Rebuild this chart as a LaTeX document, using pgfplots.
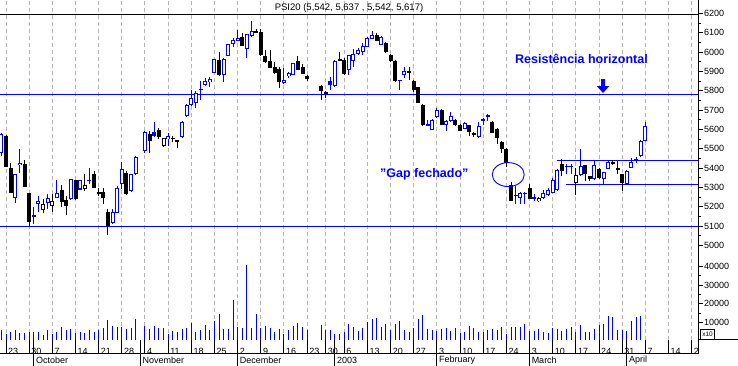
\documentclass[border=0pt]{standalone}
\usepackage{fontspec}
\setmainfont{Liberation Sans}
\usepackage{pgfplots}
\pgfplotsset{compat=1.18}
\usepackage{pgfplotstable}

\definecolor{cblue}{RGB}{0,0,255}
\definecolor{gridgray}{RGB}{180,180,180}

% i = trading-day slot (Sep 20 2002 = 0), o h l c, t = candle type
% (1 blue hollow, 2 blue filled, 3 black hollow, 4 black filled), v = volume
\pgfplotstableread{
i o h l c t v
0 5480 5580 5462 5578 1 5900
1 5568 5572 5405 5405 4 3600
2 5402 5427 5273 5273 4 4800
3 5244 5367 5221 5367 1 5900
4 5415 5501 5376 5427 1 4100
5 5419 5441 5304 5304 4 4100
6 5273 5273 5093 5122 4 4800
7 5150 5196 5108 5154 1 4800
8 5214 5255 5175 5232 1 4800
9 5182 5238 5170 5213 3 3200
10 5220 5264 5187 5247 1 5700
11 5206 5264 5170 5227 3 3600
12 5247 5336 5245 5273 1 4800
13 5288 5311 5196 5225 4 7300
14 5233 5255 5158 5204 4 5900
15 5239 5345 5235 5345 1 6400
16 5336 5340 5233 5240 4 4300
17 5289 5340 5285 5338 1 4600
18 5294 5367 5283 5314 3 4300
19 5332 5398 5316 5340 1 5700
20 5371 5384 5299 5299 4 4800
21 5278 5299 5255 5264 4 5900
22 5275 5299 5216 5247 4 6800
23 5175 5187 5055 5101 4 11300
24 5118 5187 5110 5175 1 8100
25 5170 5305 5165 5299 1 7500
26 5316 5433 5290 5397 1 7500
27 5376 5384 5260 5264 4 6300
28 5281 5370 5275 5367 1 6800
29 5371 5460 5365 5456 1 11800
31 5487 5590 5480 5587 1 8100
32 5578 5590 5479 5542 4 6600
33 5587 5639 5560 5565 2 7900
34 5595 5608 5550 5559 4 7000
35 5513 5556 5510 5556 3 7000
36 5551 5582 5513 5564 1 4000
37 5556 5565 5535 5553 4 5400
38 5536 5546 5505 5546 3 4800
39 5559 5645 5555 5639 1 6400
40 5667 5730 5662 5728 1 7000
41 5724 5805 5720 5762 1 9700
42 5736 5796 5711 5786 1 5000
43 5805 5848 5754 5810 1 6100
44 5831 5868 5825 5848 1 8600
45 5843 5873 5817 5860 1 5900
46 5894 5965 5890 5963 1 10800
47 5960 6000 5875 5879 4 14700
48 5879 5968 5843 5965 1 6600
49 5982 6042 5978 6040 1 6600
50 6042 6071 6025 6062 1 22000
51 6059 6114 6055 6071 1 7500
52 6080 6097 6030 6033 4 7000
53 6015 6095 5968 6092 1 40800
54 6085 6160 6080 6110 1 7000
55 6107 6118 6100 6104 4 14700
56 6105 6119 5982 5985 4 7000
57 5980 6010 5945 5948 4 8100
58 5954 6011 5915 5917 4 7000
59 5920 5948 5885 5891 4 4800
60 5913 5925 5814 5845 4 6400
61 5840 5917 5836 5857 1 3800
62 5876 5899 5865 5891 1 5900
63 5882 5945 5880 5942 1 7900
64 5954 5977 5905 5908 4 9700
65 5923 5938 5885 5887 4 7500
66 5877 5882 5851 5860 4 5900
69 5822 5831 5754 5796 4 8600
70 5793 5800 5762 5784 4 5900
71 5848 5873 5805 5831 2 5900
72 5822 5960 5818 5954 1 3800
73 5962 6002 5955 5958 4 3800
74 5960 5968 5880 5886 4 4800
75 5908 5985 5879 5982 1 9100
76 5951 6016 5925 5989 1 7500
77 5990 6020 5985 6011 1 5400
78 6002 6046 5985 6033 1 7000
79 6028 6078 6025 6074 1 10000
80 6068 6109 6065 6088 1 11800
81 6088 6098 6055 6057 4 12400
82 6037 6082 6035 6080 1 7500
83 6045 6050 5994 6002 4 9100
84 5985 5990 5950 5954 4 5900
85 5954 5958 5845 5851 4 9100
86 5852 5857 5805 5855 1 10800
87 5879 5920 5865 5903 1 5900
88 5903 5920 5857 5891 4 4800
89 5851 5855 5795 5805 4 7000
90 5817 5820 5735 5737 4 11800
91 5728 5730 5618 5621 4 14000
92 5623 5650 5618 5626 1 6400
93 5597 5655 5595 5650 1 5900
94 5664 5710 5660 5702 1 5400
95 5702 5705 5622 5625 4 6400
96 5625 5650 5590 5645 1 7000
97 5642 5688 5640 5667 1 5400
98 5650 5655 5618 5621 4 7000
99 5625 5628 5590 5594 4 4300
100 5604 5636 5600 5633 1 4800
101 5620 5623 5565 5587 4 8100
102 5582 5585 5560 5570 4 7000
103 5559 5640 5555 5616 1 4800
104 5646 5659 5625 5654 1 4800
105 5666 5680 5642 5673 1 5900
106 5639 5642 5580 5582 4 6400
107 5604 5606 5525 5556 4 5900
108 5534 5540 5479 5500 4 7500
109 5500 5502 5407 5427 4 3800
110 5311 5326 5228 5230 4 7500
111 5255 5307 5213 5262 1 7500
112 5247 5275 5213 5269 1 7500
113 5268 5275 5213 5273 1 9100
114 5299 5315 5240 5242 4 5400
115 5242 5264 5230 5252 1 5400
116 5227 5250 5222 5247 3 6400
117 5247 5286 5239 5273 1 4800
118 5258 5296 5255 5285 1 4300
119 5273 5350 5270 5336 1 7000
120 5285 5395 5282 5388 1 6400
121 5419 5448 5358 5384 4 5400
122 5408 5419 5367 5410 1 6400
123 5406 5419 5367 5412 1 7500
124 5324 5402 5259 5362 3 4800
125 5364 5500 5360 5410 1 8600
126 5414 5416 5333 5367 4 4800
127 5358 5360 5335 5341 4 4800
128 5341 5441 5338 5414 1 6400
129 5397 5400 5345 5350 4 8600
130 5341 5382 5316 5379 1 9100
131 5397 5441 5395 5433 1 13400
132 5431 5441 5415 5419 4 12900
133 5402 5436 5367 5390 4 5900
134 5367 5370 5281 5321 4 5900
135 5316 5388 5312 5384 1 5400
136 5402 5451 5398 5433 1 10500
137 5439 5458 5427 5445 1 12900
138 5461 5545 5455 5539 1 13400
139 5542 5637 5542 5617 1 0
}\candles

\pgfplotsset{
  chartbase/.style={
    scale only axis, width=698pt,
    xmin=-0.2957, xmax=150.36,
    axis x line*=bottom, axis y line*=right,
    x axis line style={draw=none},
    y axis line style={black, line width=1pt},
    xtick={1,6,11,16,21,26,31,36,41,46,51,56,61,66,70,74,79,84,89,94,99,104,109,114,119,124,129,134,139,144,149},
    xmajorgrids,
    major x grid style={gridgray, line width=1pt, dash pattern=on 4pt off 3pt},
    xtick style={draw=none},
    ytick style={black, line width=0.8pt},
    tick align=outside, major tick length=5pt, minor tick length=3pt,
    ytick pos=right, yticklabel pos=right,
    tick label style={font=\fontsize{9}{10}\selectfont},
    yticklabel style={anchor=west, inner sep=1pt},
    scaled y ticks=false,
    /pgf/number format/assume math mode=true,
    /pgf/number format/1000 sep={},
  },
  wick/.style={draw=none, no markers, forget plot,
    error bars/.cd, y dir=both, y explicit, error mark=none,
    error bar style={draw=#1, line width=1pt}},
  body/.style={draw=none, no markers, forget plot,
    error bars/.cd, y dir=both, y explicit, error mark=none,
    error bar style={draw=#1, line width=4pt}},
  inner/.style={draw=none, no markers, forget plot,
    error bars/.cd, y dir=both, y explicit, error mark=none,
    error bar style={draw=white, line width=2pt}},
}

\begin{document}
\begin{tikzpicture}
\path[use as bounding box] (0,0) rectangle (738pt,365pt);

% ---------------- price panel ----------------
\begin{axis}[chartbase, at={(0pt,115pt)}, anchor=south west, height=250pt,
  ymin=4976, ymax=6269, ytick={5000,5100,...,6200}, minor y tick num=1,
  xticklabels={}]
  % horizontal reference lines
  \addplot[black, line width=1pt, forget plot] coordinates {(-0.3,6194) (150.4,6194)};
  \addplot[cblue, line width=1pt, forget plot] coordinates {(-0.3,5780) (150.4,5780)};
  \addplot[cblue, line width=1pt, forget plot] coordinates {(-0.3,5097.5) (150.4,5097.5)};
  \addplot[cblue, line width=1pt, forget plot] coordinates {(119.9,5439) (150.4,5439)};
  \addplot[cblue, line width=1pt, forget plot] coordinates {(121.9,5315) (150.4,5315)};
  % wicks
  \addplot[restrict expr to domain={\thisrow{t}}{1:2}, wick=cblue]
    table[x=i, y expr={(\thisrow{h}+\thisrow{l})/2}, y error expr={(\thisrow{h}-\thisrow{l})/2}]{\candles};
  \addplot[restrict expr to domain={\thisrow{t}}{3:4}, wick=black]
    table[x=i, y expr={(\thisrow{h}+\thisrow{l})/2}, y error expr={(\thisrow{h}-\thisrow{l})/2}]{\candles};
  % bodies
  \addplot[restrict expr to domain={\thisrow{t}}{1:2}, body=cblue]
    table[x=i, y expr={(\thisrow{o}+\thisrow{c})/2}, y error expr={max(abs(\thisrow{c}-\thisrow{o})/2,2.6)}]{\candles};
  \addplot[restrict expr to domain={\thisrow{t}}{3:4}, body=black]
    table[x=i, y expr={(\thisrow{o}+\thisrow{c})/2}, y error expr={max(abs(\thisrow{c}-\thisrow{o})/2,2.6)}]{\candles};
  % hollow interiors
  \addplot[restrict expr to domain={\thisrow{t}}{1:1}, inner]
    table[x=i, y expr={(\thisrow{o}+\thisrow{c})/2}, y error expr={max(abs(\thisrow{c}-\thisrow{o})/2-5.2,0)}]{\candles};
  \addplot[restrict expr to domain={\thisrow{t}}{3:3}, inner]
    table[x=i, y expr={(\thisrow{o}+\thisrow{c})/2}, y error expr={max(abs(\thisrow{c}-\thisrow{o})/2-5.2,0)}]{\candles};
  % gap ellipse
  \draw[cblue, line width=0.9pt] (axis cs:109.4,5366) ellipse [x radius=16pt, y radius=12pt];
\end{axis}

% ---------------- volume panel ----------------
\begin{axis}[chartbase, at={(0pt,25.5pt)}, anchor=south west, height=89.5pt,
  ymin=800, ymax=48738, ytick={10000,20000,30000,40000}, minor y tick num=1,
  x axis line style={black, line width=1pt},
  xticklabels={23,30,7,14,21,28,4,11,18,25,2,9,16,23,30,6,13,20,27,3,10,17,24,3,10,17,24,31,7,14,2},
  xticklabel style={anchor=west, inner sep=0pt, xshift=2pt, yshift=-7pt},
  clip mode=individual]
  \addplot[ycomb, draw=cblue, line width=1pt, no markers] table[x=i, y=v]{\candles};
  % week separators in the date band
  \pgfplotsinvokeforeach{1,6,11,16,21,26,31,36,41,46,51,56,61,66,70,74,79,84,89,94,99,104,109,114,119,124,129,134,139,144,149}{
    \draw[black, line width=1pt] (axis cs:#1,800) -- ++(0pt,-14pt);
  }
  % month separators
  \pgfplotsinvokeforeach{7,30,51,72,94,114,135}{
    \draw[black, line width=1pt] (axis cs:#1,800) -- ++(0pt,-26pt);
  }
  \node[anchor=west, inner sep=0pt, font=\fontsize{9}{10}\selectfont, xshift=2pt, yshift=-20.5pt] at (axis cs:7,800) {October};
  \node[anchor=west, inner sep=0pt, font=\fontsize{9}{10}\selectfont, xshift=2pt, yshift=-20.5pt] at (axis cs:30,800) {November};
  \node[anchor=west, inner sep=0pt, font=\fontsize{9}{10}\selectfont, xshift=2pt, yshift=-20.5pt] at (axis cs:51,800) {December};
  \node[anchor=west, inner sep=0pt, font=\fontsize{9}{10}\selectfont, xshift=2pt, yshift=-20.5pt] at (axis cs:72,800) {2003};
  \node[anchor=west, inner sep=0pt, font=\fontsize{9}{10}\selectfont, xshift=2pt, yshift=-20.5pt] at (axis cs:94,800) {February};
  \node[anchor=west, inner sep=0pt, font=\fontsize{9}{10}\selectfont, xshift=2pt, yshift=-20.5pt] at (axis cs:114,800) {March};
  \node[anchor=west, inner sep=0pt, font=\fontsize{9}{10}\selectfont, xshift=2pt, yshift=-20.5pt] at (axis cs:135,800) {April};
\end{axis}

% date band frame, x10 box
\draw[black, line width=1pt] (0pt,11.5pt) -- (698pt,11.5pt);
\draw[black, line width=1pt] (698pt,25.5pt) -- (698pt,11.5pt);
\draw[black, line width=1pt] (698pt,25.5pt) -- (738pt,25.5pt);
\draw[black, line width=0.8pt] (700.3pt,25.5pt) rectangle (714.7pt,35.5pt);
\node[font=\fontsize{6.5}{7}\selectfont, inner sep=0pt] at (707.5pt,30.5pt) {x10};

% title and annotations
\node[font=\fontsize{9.5}{11}\selectfont, inner sep=0pt] at (349pt,356.7pt) {PSI20 (5,542, 5,637 , 5,542, 5,617)};
\node[font=\bfseries\fontsize{12.5}{14}\selectfont, text=cblue, inner sep=0pt] at (581.5pt,306pt) {Resistência horizontal};
\node[font=\bfseries\fontsize{12.5}{14}\selectfont, text=cblue, inner sep=0pt] at (424.3pt,191pt) {"Gap fechado"};
\fill[cblue] (601pt,286pt) -- (605pt,286pt) -- (605pt,279pt) -- (609.3pt,279pt) -- (603pt,272pt) -- (596.7pt,279pt) -- (601pt,279pt) -- cycle;
\end{tikzpicture}
\end{document}
